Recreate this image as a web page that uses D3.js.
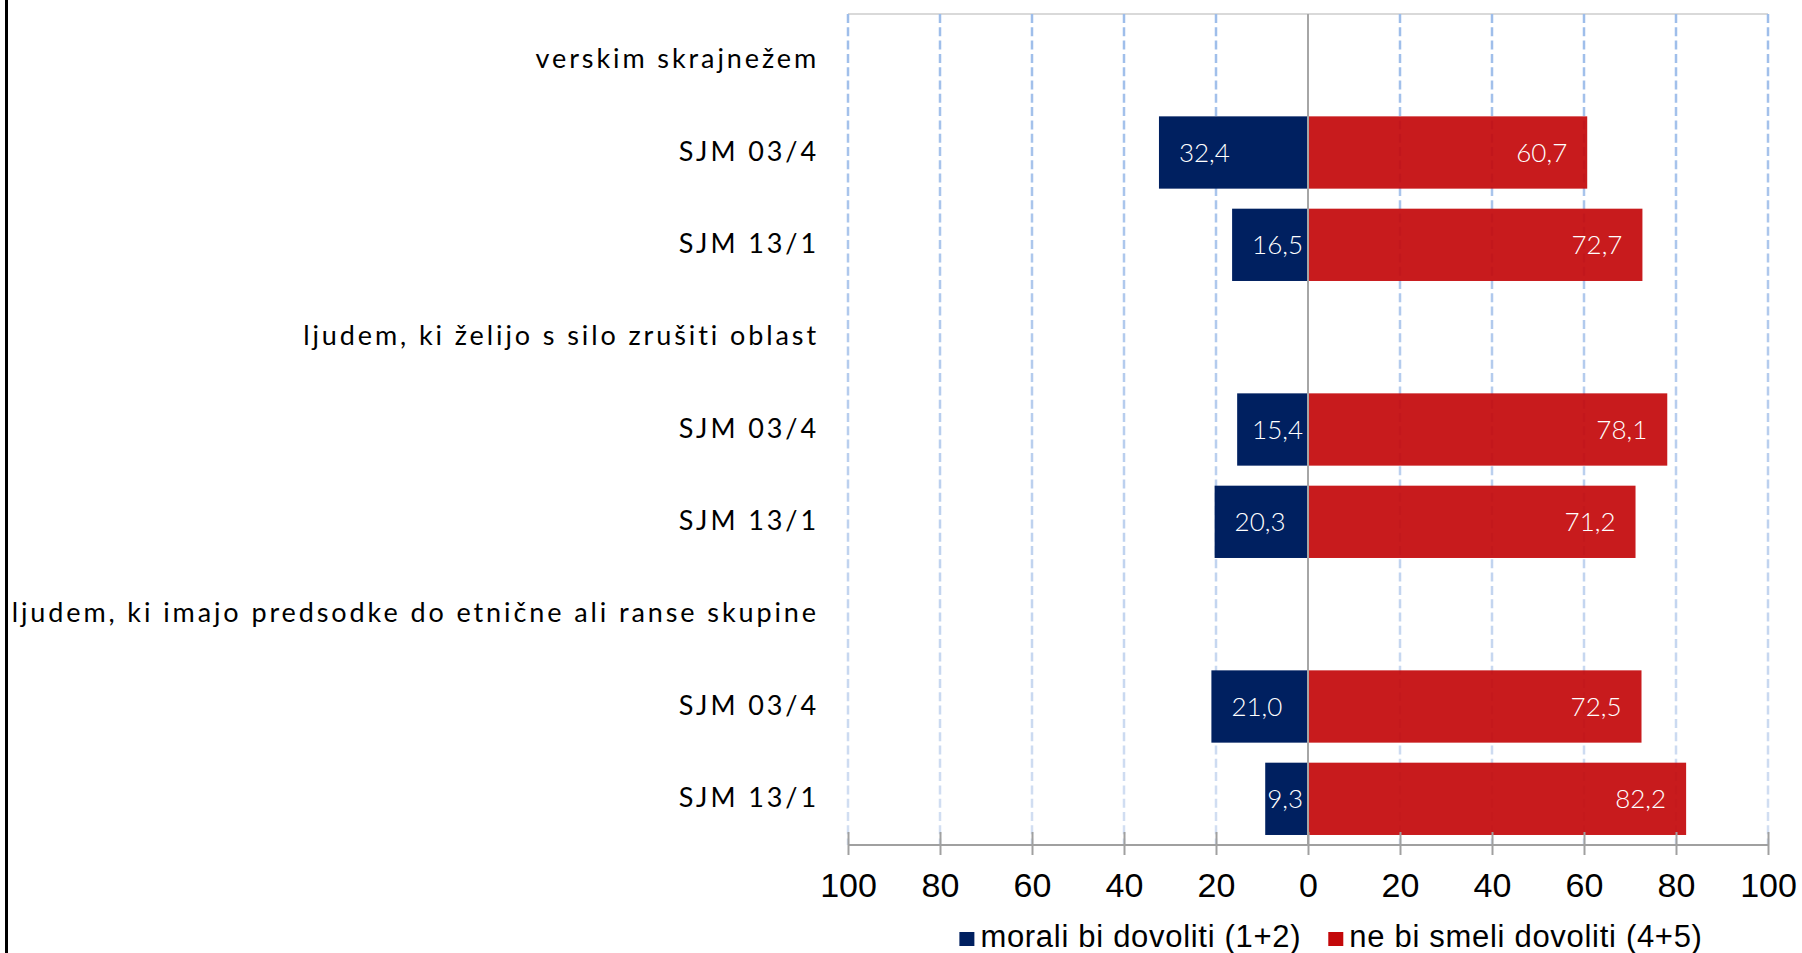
<!DOCTYPE html>
<html>
<head>
<meta charset="utf-8">
<script src="https://cdn.jsdelivr.net/npm/d3@7"></script>
<style>
  body { margin: 0; background: #fff; }
  svg { display: block; }
</style>
</head>
<body>
<div id="app"></div>
<script>
const categories = [
  'verskim skrajnežem',
  'SJM 03/4',
  'SJM 13/1',
  'ljudem, ki želijo s silo zrušiti oblast',
  'SJM 03/4',
  'SJM 13/1',
  'ljudem, ki imajo predsodke do etnične ali ranse skupine',
  'SJM 03/4',
  'SJM 13/1',
]
const allowValues = [null, 32.4, 16.5, null, 15.4, 20.3, null, 21.0, 9.3]
const denyValues = [null, 60.7, 72.7, null, 78.1, 71.2, null, 72.5, 82.2]
const seriesNames = ['morali bi dovoliti (1+2)', 'ne bi smeli dovoliti (4+5)']
const xTicks = [-100, -80, -60, -40, -20, 0, 20, 40, 60, 80, 100]

const config = {
  width: 1802,
  height: 953,
  left: 848,
  right: 1768,
  top: 14,
  bottom: 845,
  blue: '#002060',
  red: '#c3080a',
  labelFont: 'Lato, "Open Sans", sans-serif',
  axisFont: '"Liberation Sans", Arial, sans-serif',
}

const fmt = (v) => d3.format('.1f')(v).replace('.', ',')

const draw = () => {
  const svg = d3
    .select('#app')
    .append('svg')
    .attr('width', config.width)
    .attr('height', config.height)

  const x = d3.scaleLinear().domain([-100, 100]).range([config.left, config.right])
  const y = d3
    .scaleBand()
    .domain(d3.range(categories.length))
    .range([config.top, config.bottom])
    .paddingInner(0.217)
    .paddingOuter(0.1085)

  // gridline gradient (darker at top, paler towards the axis)
  const grad = svg
    .append('defs')
    .append('linearGradient')
    .attr('id', 'gridGrad')
    .attr('gradientUnits', 'userSpaceOnUse')
    .attr('x1', 0).attr('x2', 0)
    .attr('y1', config.top).attr('y2', config.bottom)
  grad.append('stop').attr('offset', 0).attr('stop-color', '#9dbdea')
  grad.append('stop').attr('offset', 1).attr('stop-color', '#d3dff2')

  // left frame line
  svg.append('line')
    .attr('x1', 6.5).attr('x2', 6.5)
    .attr('y1', 0).attr('y2', config.height)
    .attr('stroke', '#000').attr('stroke-width', 3)

  // top border of plot area
  svg.append('line')
    .attr('x1', config.left).attr('x2', config.right)
    .attr('y1', config.top).attr('y2', config.top)
    .attr('stroke', '#d9d9d9').attr('stroke-width', 2)

  svg.append('g')
    .selectAll('line')
    .data(xTicks.filter((d) => d !== 0))
    .join('line')
    .attr('x1', (d) => x(d)).attr('x2', (d) => x(d))
    .attr('y1', config.top).attr('y2', config.bottom)
    .attr('stroke', 'url(#gridGrad)')
    .attr('stroke-width', 2.5)
    .attr('stroke-dasharray', '9,4.3')

  const rows = categories.map((c, i) => ({i, c, a: allowValues[i], d: denyValues[i]}))
  const barRows = rows.filter((r) => r.a != null)

  svg.append('g')
    .selectAll('rect')
    .data(barRows)
    .join('rect')
    .attr('x', x(0))
    .attr('y', (r) => y(r.i))
    .attr('width', (r) => x(r.d) - x(0))
    .attr('height', y.bandwidth())
    .attr('fill', config.red)
    .attr('fill-opacity', 0.92)

  svg.append('g')
    .selectAll('rect')
    .data(barRows)
    .join('rect')
    .attr('x', (r) => x(-r.a))
    .attr('y', (r) => y(r.i))
    .attr('width', (r) => x(0) - x(-r.a))
    .attr('height', y.bandwidth())
    .attr('fill', config.blue)

  // zero line
  svg.append('line')
    .attr('x1', x(0)).attr('x2', x(0))
    .attr('y1', config.top).attr('y2', config.bottom)
    .attr('stroke', '#a6a6a6').attr('stroke-width', 2)

  // value labels
  const red = svg.append('g')
    .attr('font-family', config.labelFont)
    .attr('font-size', 26)
    .attr('font-weight', 300)
    .attr('fill', '#fff')
  red.selectAll('text')
    .data(barRows)
    .join('text')
    .attr('x', (r) => x(r.d) - 20)
    .attr('y', (r) => y(r.i) + y.bandwidth() / 2 + 9.5)
    .attr('text-anchor', 'end')
    .text((r) => fmt(r.d))

  const blue = svg.append('g')
    .attr('font-family', config.labelFont)
    .attr('font-size', 26)
    .attr('font-weight', 300)
    .attr('fill', '#fff')
  blue.selectAll('text')
    .data(barRows)
    .join('text')
    .attr('y', (r) => y(r.i) + y.bandwidth() / 2 + 9.5)
    .text((r) => fmt(r.a))
    .each(function (r) {
      const w = this.getComputedTextLength()
      let start = x(-r.a) + 20
      if (start + w > x(0) - 5) start = x(0) - 5 - w
      d3.select(this).attr('x', start)
    })

  // category labels
  svg.append('g')
    .attr('font-family', config.labelFont)
    .attr('font-size', 27)
    .attr('letter-spacing', 2.9)
    .attr('fill', '#000')
    .selectAll('text')
    .data(rows)
    .join('text')
    .attr('x', 819)
    .attr('y', (r) => y(r.i) + y.bandwidth() / 2 + 8)
    .attr('text-anchor', 'end')
    .text((r) => r.c)

  // x axis
  const axis = svg.append('g')
    .attr('transform', `translate(0,${config.bottom})`)
    .call(
      d3.axisBottom(x)
        .tickValues(xTicks)
        .tickSize(10)
        .tickPadding(30)
        .tickFormat((d) => Math.abs(d)),
    )
  axis.select('.domain')
    .attr('stroke', '#a0a0a0').attr('stroke-width', 2)
    .attr('d', `M${config.left},0H${config.right}`)
  axis.selectAll('.tick line')
    .attr('stroke', '#a0a0a0').attr('stroke-width', 2)
    .attr('y1', -13).attr('y2', 10)
  axis.selectAll('.tick text')
    .attr('font-family', config.axisFont)
    .attr('font-size', 34)
    .attr('fill', '#000')
    .attr('dy', 0)
    .attr('y', 52)

  // legend
  const legend = svg.append('g')
    .attr('font-family', config.axisFont)
    .attr('font-size', 31)
    .attr('letter-spacing', 0.7)
  const items = legend.selectAll('g')
    .data(seriesNames)
    .join('g')
  items.append('rect')
    .attr('width', 15).attr('height', 14)
    .attr('y', 932)
    .attr('fill', (d, i) => (i === 0 ? config.blue : config.red))
  items.append('text')
    .attr('x', 21)
    .attr('y', 947)
    .text((d) => d)
  const widths = []
  items.select('text').each(function () { widths.push(this.getComputedTextLength()) })
  const gap = 27
  const itemW = widths.map((w) => 21 + w)
  const total = d3.sum(itemW) + gap
  let cx = 1331 - total / 2
  items.attr('transform', (d, i) => {
    const t = `translate(${cx},0)`
    cx += itemW[i] + gap
    return t
  })
}
draw()
</script>
</body>
</html>
